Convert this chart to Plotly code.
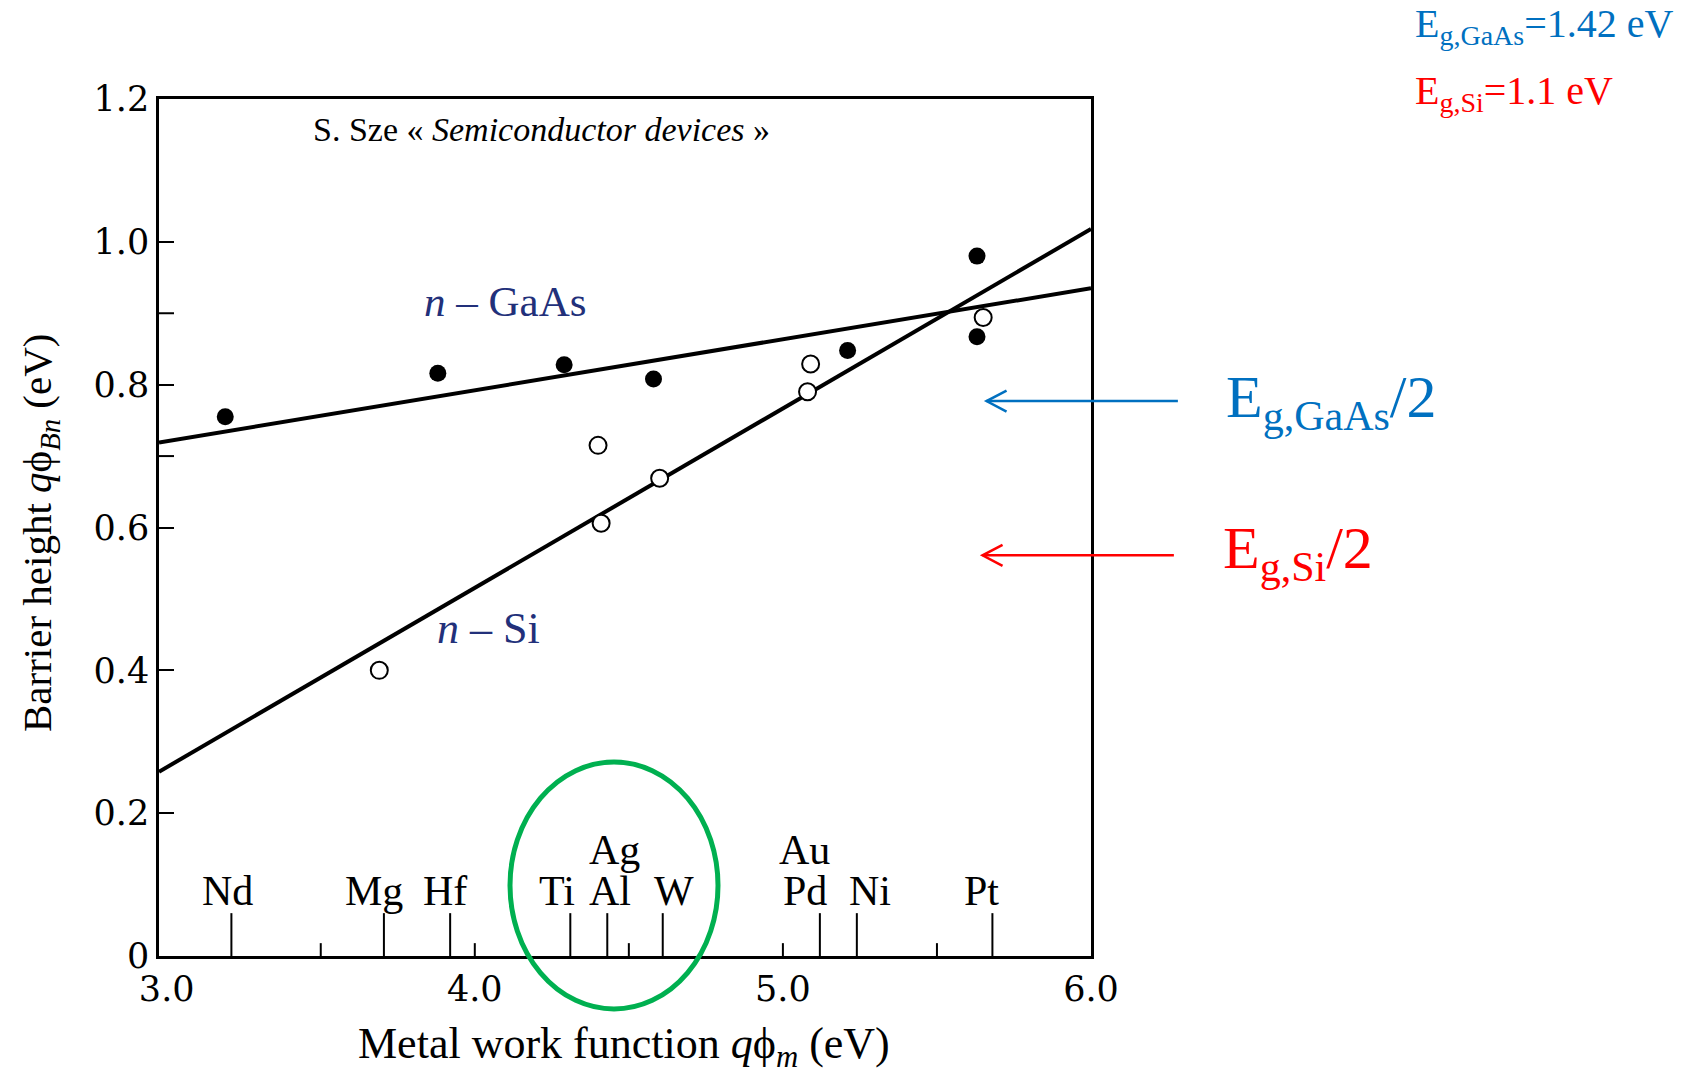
import plotly.graph_objects as go

# ---------------- data ----------------
gaas_wf = [3.19, 3.88, 4.29, 4.58, 5.21, 5.63, 5.63]
gaas_barrier = [0.755, 0.816, 0.828, 0.808, 0.848, 0.980, 0.867]
si_wf = [3.69, 4.40, 4.41, 4.60, 5.09, 5.08, 5.65]
si_barrier = [0.400, 0.715, 0.606, 0.669, 0.829, 0.790, 0.894]
fit_wf = [2.975, 6.0]
gaas_fit = [0.719, 0.935]
si_fit = [0.258, 1.018]

metals = ["Nd", "Mg", "Hf", "Ti", "Al", "W", "Pd", "Ni", "Pt"]
metal_wf = [3.21, 3.705, 3.92, 4.31, 4.43, 4.61, 5.12, 5.24, 5.68]
upper_metals = ["Ag", "Au"]
upper_metal_wf = [4.43, 5.12]

y_tick_vals = [0, 0.2, 0.4, 0.6, 0.8, 1.0, 1.2]
y_tick_text = ["0", "0.2", "0.4", "0.6", "0.8", "1.0", "1.2"]
y_minor_ticks = [0.7, 0.9]
x_tick_vals = [3.0, 4.0, 5.0, 6.0]
x_tick_text = ["3.0", "4.0", "5.0", "6.0"]
x_minor_ticks = [3.5, 4.0, 4.5, 5.0, 5.5]

eg_gaas = 1.42
eg_si = 1.1
arrow_levels = [0.777, 0.561]   # drawn heights of the Eg/2 arrows

# ---------------- style ----------------
XR = [2.975, 6.0]
YR = [0.0, 1.2]
OFF = 8                      # page body margin
W, H = 1688 - OFF, 1076 - OFF
ML, MR, MT, MB = 159 - OFF, 597, 99 - OFF, 120
PW, PH = W - ML - MR, H - MT - MB
BOTTOM = 99 + PH             # screen y of the x axis
BLUE = "#0070C0"
RED = "#FF0000"
NAVY = "#22307a"
SERIF = "Liberation Serif, Times New Roman, serif"
TICKF = "DejaVu Serif, serif"

def xp(v):
    return (v - XR[0]) / (XR[1] - XR[0])

def yp(v):
    return (v - YR[0]) / (YR[1] - YR[0])

def sx(px):   # screen x -> paper
    return (px - 159) / PW

def sy(py):   # screen y -> paper
    return (BOTTOM - py) / PH

fig = go.Figure()

fig.add_trace(go.Scatter(x=fit_wf, y=gaas_fit, mode="lines",
                         line=dict(color="black", width=4), hoverinfo="skip"))
fig.add_trace(go.Scatter(x=fit_wf, y=si_fit, mode="lines",
                         line=dict(color="black", width=4), hoverinfo="skip"))
fig.add_trace(go.Scatter(x=gaas_wf, y=gaas_barrier, mode="markers",
                         marker=dict(color="black", size=17, line=dict(width=0))))
fig.add_trace(go.Scatter(x=si_wf, y=si_barrier, mode="markers",
                         marker=dict(color="white", size=17, line=dict(color="black", width=2))))

# metal work-function ticks
mx, my = [], []
for v in metal_wf:
    mx += [v, v, None]
    my += [0, 0.06, None]
fig.add_trace(go.Scatter(x=mx, y=my, mode="lines",
                         line=dict(color="black", width=2), hoverinfo="skip"))
# short x-axis ticks every 0.5
tx, ty = [], []
for v in x_minor_ticks:
    tx += [v, v, None]
    ty += [0, 0.018, None]
fig.add_trace(go.Scatter(x=tx, y=ty, mode="lines",
                         line=dict(color="black", width=2), hoverinfo="skip"))
# unlabeled y ticks
ux, uy = [], []
for v in y_minor_ticks:
    ux += [XR[0], XR[0] + 15 / PW * (XR[1] - XR[0]), None]
    uy += [v, v, None]
fig.add_trace(go.Scatter(x=ux, y=uy, mode="lines",
                         line=dict(color="black", width=2), hoverinfo="skip"))

ann = []
label_shift = [-4, -10, -5, -13, 3, 11, -15, 13, -11]
for name, v, s in zip(metals, metal_wf, label_shift):
    ann.append(dict(x=v, y=0.091, xref="x", yref="y", text=name, showarrow=False,
                    xanchor="center", yanchor="middle",
                    xshift=s, font=dict(family=SERIF, size=42, color="black")))
upper_shift = [7, -15]
for name, v, s in zip(upper_metals, upper_metal_wf, upper_shift):
    ann.append(dict(x=v, y=0.148, xref="x", yref="y", text=name, showarrow=False,
                    xanchor="center", yanchor="middle",
                    xshift=s, font=dict(family=SERIF, size=42, color="black")))

ann += [
    dict(x=4.216, y=1.158, xref="x", yref="y", showarrow=False,
         xanchor="center", yanchor="middle",
         text="S. Sze « <i>Semiconductor devices</i> »",
         font=dict(family=SERIF, size=34, color="black")),
    dict(x=4.097, y=0.916, xref="x", yref="y", showarrow=False,
         xanchor="center", yanchor="middle",
         text="<i>n</i> – GaAs", font=dict(family=SERIF, size=43, color=NAVY)),
    dict(x=4.045, y=0.459, xref="x", yref="y", showarrow=False,
         xanchor="center", yanchor="middle",
         text="<i>n</i> – Si", font=dict(family=SERIF, size=44, color=NAVY)),
    dict(x=sx(624), y=sy(1046), xref="paper", yref="paper",
         xanchor="center", yanchor="middle",
         showarrow=False, text="Metal work function <i>q</i>ϕ<sub><i>m</i></sub> (eV)",
         font=dict(family=SERIF, size=44, color="black")),
    dict(x=sx(40), y=sy(533), xref="paper", yref="paper",
         xanchor="center", yanchor="middle",
         showarrow=False, textangle=-90,
         text="Barrier height <i>q</i>ϕ<sub><i>Bn</i></sub> (eV)",
         font=dict(family=SERIF, size=41, color="black")),
    dict(x=sx(1413), y=sy(-1), xref="paper", yref="paper",
         xanchor="left", yanchor="top", showarrow=False,
         text=f"E<sub>g,GaAs</sub>={eg_gaas} eV",
         font=dict(family=SERIF, size=40, color=BLUE)),
    dict(x=sx(1413), y=sy(66), xref="paper", yref="paper",
         xanchor="left", yanchor="top", showarrow=False,
         text=f"E<sub>g,Si</sub>={eg_si} eV",
         font=dict(family=SERIF, size=40, color=RED)),
    dict(x=sx(1224), y=sy(362), xref="paper", yref="paper",
         xanchor="left", yanchor="top", showarrow=False,
         text="E<sub>g,GaAs</sub>/2", font=dict(family=SERIF, size=60, color=BLUE)),
    dict(x=sx(1221), y=sy(513), xref="paper", yref="paper",
         xanchor="left", yanchor="top", showarrow=False,
         text="E<sub>g,Si</sub>/2", font=dict(family=SERIF, size=60, color=RED)),
]

shapes = []
arrow_tips = [5.661, 5.648]
arrow_tails = [6.282, 6.269]
for lvl, tip, tail, col in zip(arrow_levels, arrow_tips, arrow_tails, [BLUE, RED]):
    x0, x1, yy = xp(tip), xp(tail), yp(lvl)
    shapes.append(dict(type="line", xref="paper", yref="paper", x0=x0, x1=x1, y0=yy, y1=yy,
                       line=dict(color=col, width=2.5)))
    dx, dy = 20 / PW, 10.5 / PH
    shapes.append(dict(type="path", xref="paper", yref="paper",
                       path=f"M {x0+dx} {yy+dy} L {x0} {yy} L {x0+dx} {yy-dy}",
                       line=dict(color=col, width=2.5)))

shapes.append(dict(type="circle", xref="paper", yref="paper",
                   x0=sx(510), x1=sx(718), y0=sy(1009), y1=sy(762),
                   line=dict(color="#00B050", width=5)))

fig.update_layout(
    width=W, height=H,
    margin=dict(l=ML, r=MR, t=MT, b=MB, autoexpand=False),
    paper_bgcolor="white", plot_bgcolor="white",
    showlegend=False,
    annotations=ann, shapes=shapes,
    xaxis=dict(range=XR, showgrid=False, zeroline=False, showline=True, mirror=True,
               linecolor="black", linewidth=2.5, ticks="",
               tickvals=x_tick_vals, ticktext=x_tick_text,
               tickfont=dict(family=TICKF, size=35, color="black")),
    yaxis=dict(range=YR, showgrid=False, zeroline=False, showline=True, mirror=True,
               linecolor="black", linewidth=2.5, ticks="inside", ticklen=15, tickwidth=2,
               tickcolor="black", tickvals=y_tick_vals, ticktext=y_tick_text,
               tickfont=dict(family=TICKF, size=35, color="black")),
)

fig.write_html("out.html")
